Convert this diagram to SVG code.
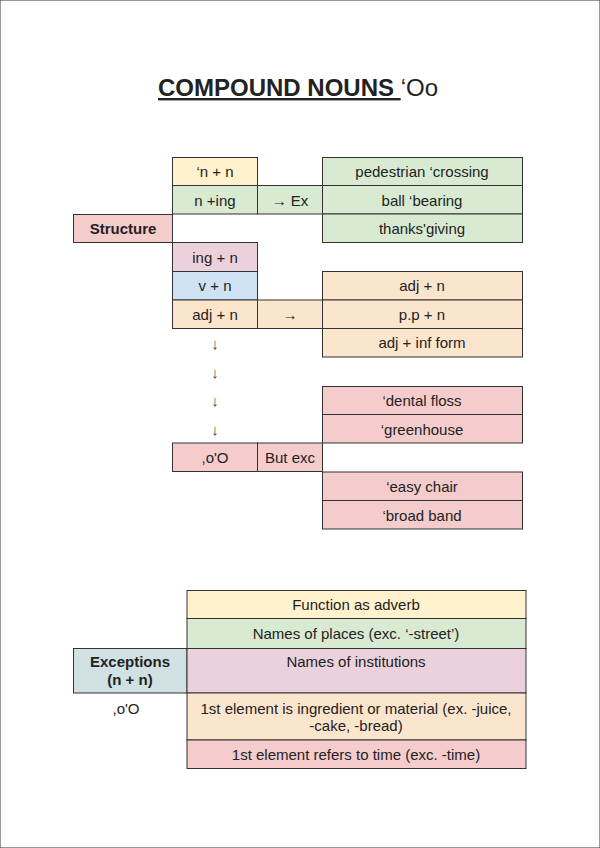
<svg xmlns="http://www.w3.org/2000/svg" width="600" height="848" viewBox="0 0 600 848">
<style>
text{font-family:"Liberation Sans",Arial,sans-serif;font-size:15px;fill:#222;text-anchor:middle}
rect{stroke:#333;stroke-width:1}
.b{font-weight:bold}
.y{fill:#fff2cc}.g{fill:#d9ead3}.p{fill:#f4cccc}.m{fill:#ead1dc}.bl{fill:#cfe2f3}.o{fill:#fce5cd}.e{fill:#d0e0e3}
.ar{fill:#444}
</style>
<rect width="600" height="848" fill="#fff" stroke="none"/>
<g id="title">
<text x="158" y="96" style="font-size:24px;text-anchor:start" xml:space="preserve"><tspan style="font-weight:bold;text-decoration:underline">COMPOUND NOUNS </tspan>‘Oo</text>
</g>
<g id="structure"><rect class="p" x="73.5" y="214.5" width="99" height="28"/><text class="b" x="123" y="234">Structure</text></g>
<g id="n-n"><rect class="y" x="172.5" y="157.5" width="85" height="28"/><text x="215" y="177">‘n + n</text></g>
<g id="n-ing"><rect class="g" x="172.5" y="185.5" width="85" height="28.5"/><text x="215" y="205.5">n +ing</text></g>
<g id="ex"><rect class="g" x="257.5" y="185.5" width="65" height="28.5"/><text x="290" y="205.5">→ Ex</text></g>
<g id="ped"><rect class="g" x="322.5" y="157.5" width="200" height="28"/><text x="422" y="177">pedestrian ‘crossing</text></g>
<g id="ball"><rect class="g" x="322.5" y="185.5" width="200" height="28.5"/><text x="422" y="205.5">ball ‘bearing</text></g>
<g id="thanks"><rect class="g" x="322.5" y="214" width="200" height="28.5"/><text x="422" y="234">thanks'giving</text></g>
<g id="ing-n"><rect class="m" x="172.5" y="242.5" width="85" height="29"/><text x="215" y="262.5">ing + n</text></g>
<g id="v-n"><rect class="bl" x="172.5" y="271.5" width="85" height="28.5"/><text x="215" y="291">v + n</text></g>
<g id="adj-n-left"><rect class="o" x="172.5" y="300" width="85" height="28.5"/><text x="215" y="319.5">adj + n</text></g>
<g id="arrow-right"><rect class="o" x="257.5" y="300" width="65" height="28.5"/><text x="290" y="319.5">→</text></g>
<g id="adj-n"><rect class="o" x="322.5" y="271.5" width="200" height="28.5"/><text x="422" y="291">adj + n</text></g>
<g id="pp-n"><rect class="o" x="322.5" y="300" width="200" height="28.5"/><text x="422" y="319.5">p.p + n</text></g>
<g id="adj-inf"><rect class="o" x="322.5" y="328.5" width="200" height="28.5"/><text x="422" y="348">adj + inf form</text></g>
<g id="down-arrows">
<text class="ar" x="215" y="349">↓</text>
<text class="ar" x="215" y="378">↓</text>
<text class="ar" x="215" y="406">↓</text>
<text class="ar" x="215" y="435">↓</text>
</g>
<g id="dental"><rect class="p" x="322.5" y="386.5" width="200" height="28"/><text x="422" y="406">‘dental floss</text></g>
<g id="green"><rect class="p" x="322.5" y="414.5" width="200" height="28.5"/><text x="422" y="434.5">‘greenhouse</text></g>
<g id="o-O"><rect class="p" x="172.5" y="443" width="85" height="28.5"/><text x="215" y="463">,o'O</text></g>
<g id="but"><rect class="p" x="257.5" y="443" width="65" height="28.5"/><text x="290" y="463">But exc</text></g>
<g id="easy"><rect class="p" x="322.5" y="472" width="200" height="28.5"/><text x="422" y="492">‘easy chair</text></g>
<g id="broad"><rect class="p" x="322.5" y="500.5" width="200" height="28.5"/><text x="422" y="520.5">‘broad band</text></g>
<g id="connectors"/>
<g id="exceptions"><rect class="e" x="73.5" y="648.5" width="113.5" height="44.5"/><text class="b" x="130" y="667">Exceptions</text><text class="b" x="130" y="685">(n + n)</text></g>
<g id="adverb"><rect class="y" x="187" y="590.5" width="339" height="28"/><text x="356" y="610">Function as adverb</text></g>
<g id="places"><rect class="g" x="187" y="618.5" width="339" height="30"/><text x="356" y="639">Names of places (exc. ‘-street’)</text></g>
<g id="institutions"><rect class="m" x="187" y="648.5" width="339" height="44.5"/><text x="356" y="667">Names of institutions</text></g>
<g id="o-O-2"><text x="126" y="714">,o'O</text></g>
<g id="ingredient"><rect class="o" x="187" y="693" width="339" height="47"/><text x="356" y="714">1st element is ingredient or material (ex. -juice,</text><text x="356" y="731">-cake, -bread)</text></g>
<g id="time"><rect class="p" x="187" y="740" width="339" height="28.5"/><text x="356" y="760">1st element refers to time (exc. -time)</text></g>
</svg>
